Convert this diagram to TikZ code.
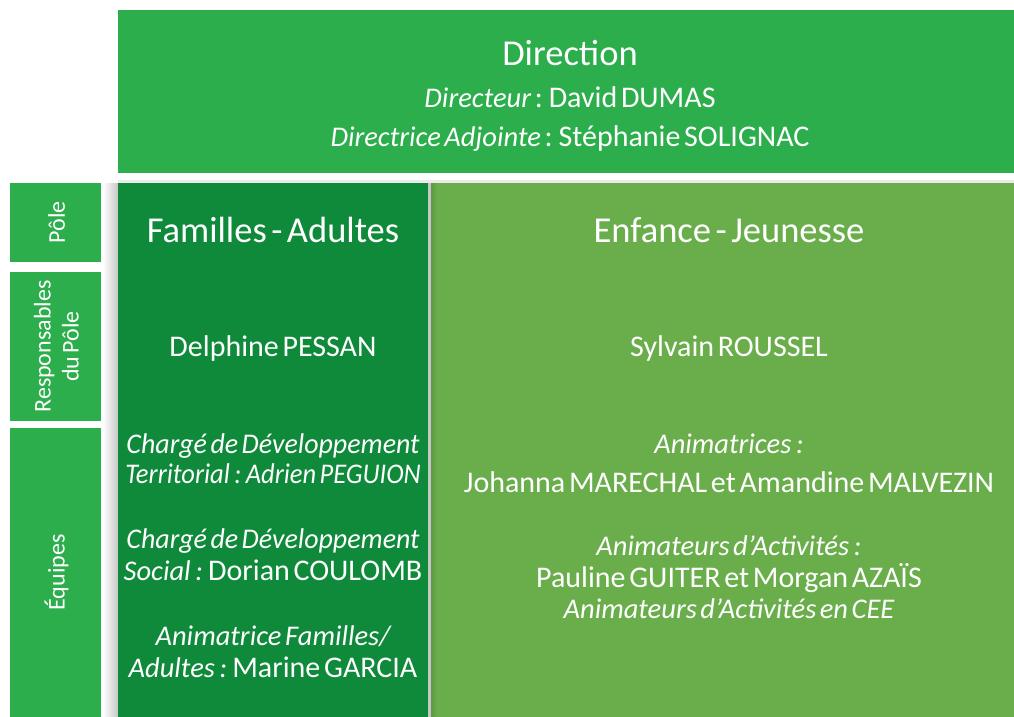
\documentclass[tikz,border=0pt]{standalone}
\usepackage{fontspec}
\setmainfont{Carlito}[WordSpace=0.55]
\definecolor{dirgreen}{RGB}{43,174,75}
\definecolor{famgreen}{RGB}{14,138,58}
\definecolor{enfgreen}{RGB}{106,174,76}
\begin{document}
\begin{tikzpicture}[x=1pt,y=-1pt,
  box/.style={draw=none, inner sep=0pt, outer sep=0pt, anchor=north west},
  txt/.style={text=white, inner sep=0pt, anchor=base},
  big/.style={txt, font=\fontsize{36.5}{40}\selectfont},
  mid/.style={txt, font=\fontsize{30}{33}\selectfont},
  midit/.style={txt, font=\fontsize{28.5}{31}\selectfont\itshape},
  side/.style={text=white, inner sep=0pt, rotate=90, align=center, font=\fontsize{24}{28}\selectfont}]
\useasboundingbox (0,0) rectangle (1014,717);
\fill[white] (0,0) rectangle (1014,717);

% boxes
\node[box, fill=dirgreen, minimum width=896pt, minimum height=163pt] (dir) at (118,10) {};
\node[box, fill=dirgreen, minimum width=91pt, minimum height=79pt] (pole) at (10,183) {};
\node[box, fill=dirgreen, minimum width=91pt, minimum height=149pt] (resp) at (10,272) {};
\node[box, fill=dirgreen, minimum width=91pt, minimum height=289pt] (equ) at (10,428) {};
\shade[left color=white, right color=black!22] (103,183) rectangle (118,717);
\fill[black!8] (118,180) rectangle (1014,183);
\node[box, fill=famgreen, minimum width=310pt, minimum height=534pt] (fam) at (118,183) {};
\fill[black!22] (428,183) rectangle (431,717);
\node[box, fill=enfgreen, minimum width=583pt, minimum height=534pt] (enf) at (431,183) {};
\shade[left color=enfgreen!88!black, right color=enfgreen] (431,183) rectangle (437,717);

% side labels
\node[side] (tpole) at ([xshift=1pt]pole.center) {Pôle};
\node[side] (tresp) at ([xshift=1pt]resp.center) {Responsables\\du Pôle};
\node[side] (tequ) at ([xshift=1pt]equ.center) {Équipes};

% direction
\node[big] (tdir) at (570,66) {Direction};
\node[mid] (tdir1) at (570,107) {{\fontsize{28.5}{31}\selectfont\itshape Directeur} : David DUMAS};
\node[mid] (tdir2) at (570,146) {{\fontsize{28.5}{31}\selectfont\itshape Directrice Adjointe} : Stéphanie SOLIGNAC};

% familles
\node[big] (tfam) at (273,242) {Familles - Adultes};
\node[mid] (tfamr) at (273,356) {Delphine PESSAN};
\node[midit] (tf1) at (273,453) {\scalebox{0.98}[1]{Chargé de Développement}};
\node[midit] (tf2) at (273,483) {\scalebox{0.93}[1]{Territorial\,:\,Adrien PEGUION}};
\node[midit] (tf3) at (273,548) {\scalebox{0.98}[1]{Chargé de Développement}};
\node[mid] (tf4) at (273,580) {{\fontsize{28.5}{31}\selectfont\itshape Social\,:}\,Dorian COULOMB};
\node[midit] (tf5) at (273,645) {Animatrice Familles/};
\node[mid] (tf6) at (273,677) {{\fontsize{28.5}{31}\selectfont\itshape Adultes\,:}\,Marine GARCIA};

% enfance
\node[big] (tenf) at (729,242) {Enfance - Jeunesse};
\node[mid] (tenfr) at (729,356) {Sylvain ROUSSEL};
\node[midit] (te1) at (729,453) {Animatrices\,:};
\node[mid] (te2) at (729,492) {Johanna MARECHAL et Amandine MALVEZIN};
\node[midit] (te3) at (729,555) {Animateurs d’Activités\,:};
\node[mid] (te4) at (729,587) {Pauline GUITER et Morgan AZAÏS};
\node[midit] (te5) at (729,618) {Animateurs d’Activités en CEE};
\end{tikzpicture}
\end{document}
